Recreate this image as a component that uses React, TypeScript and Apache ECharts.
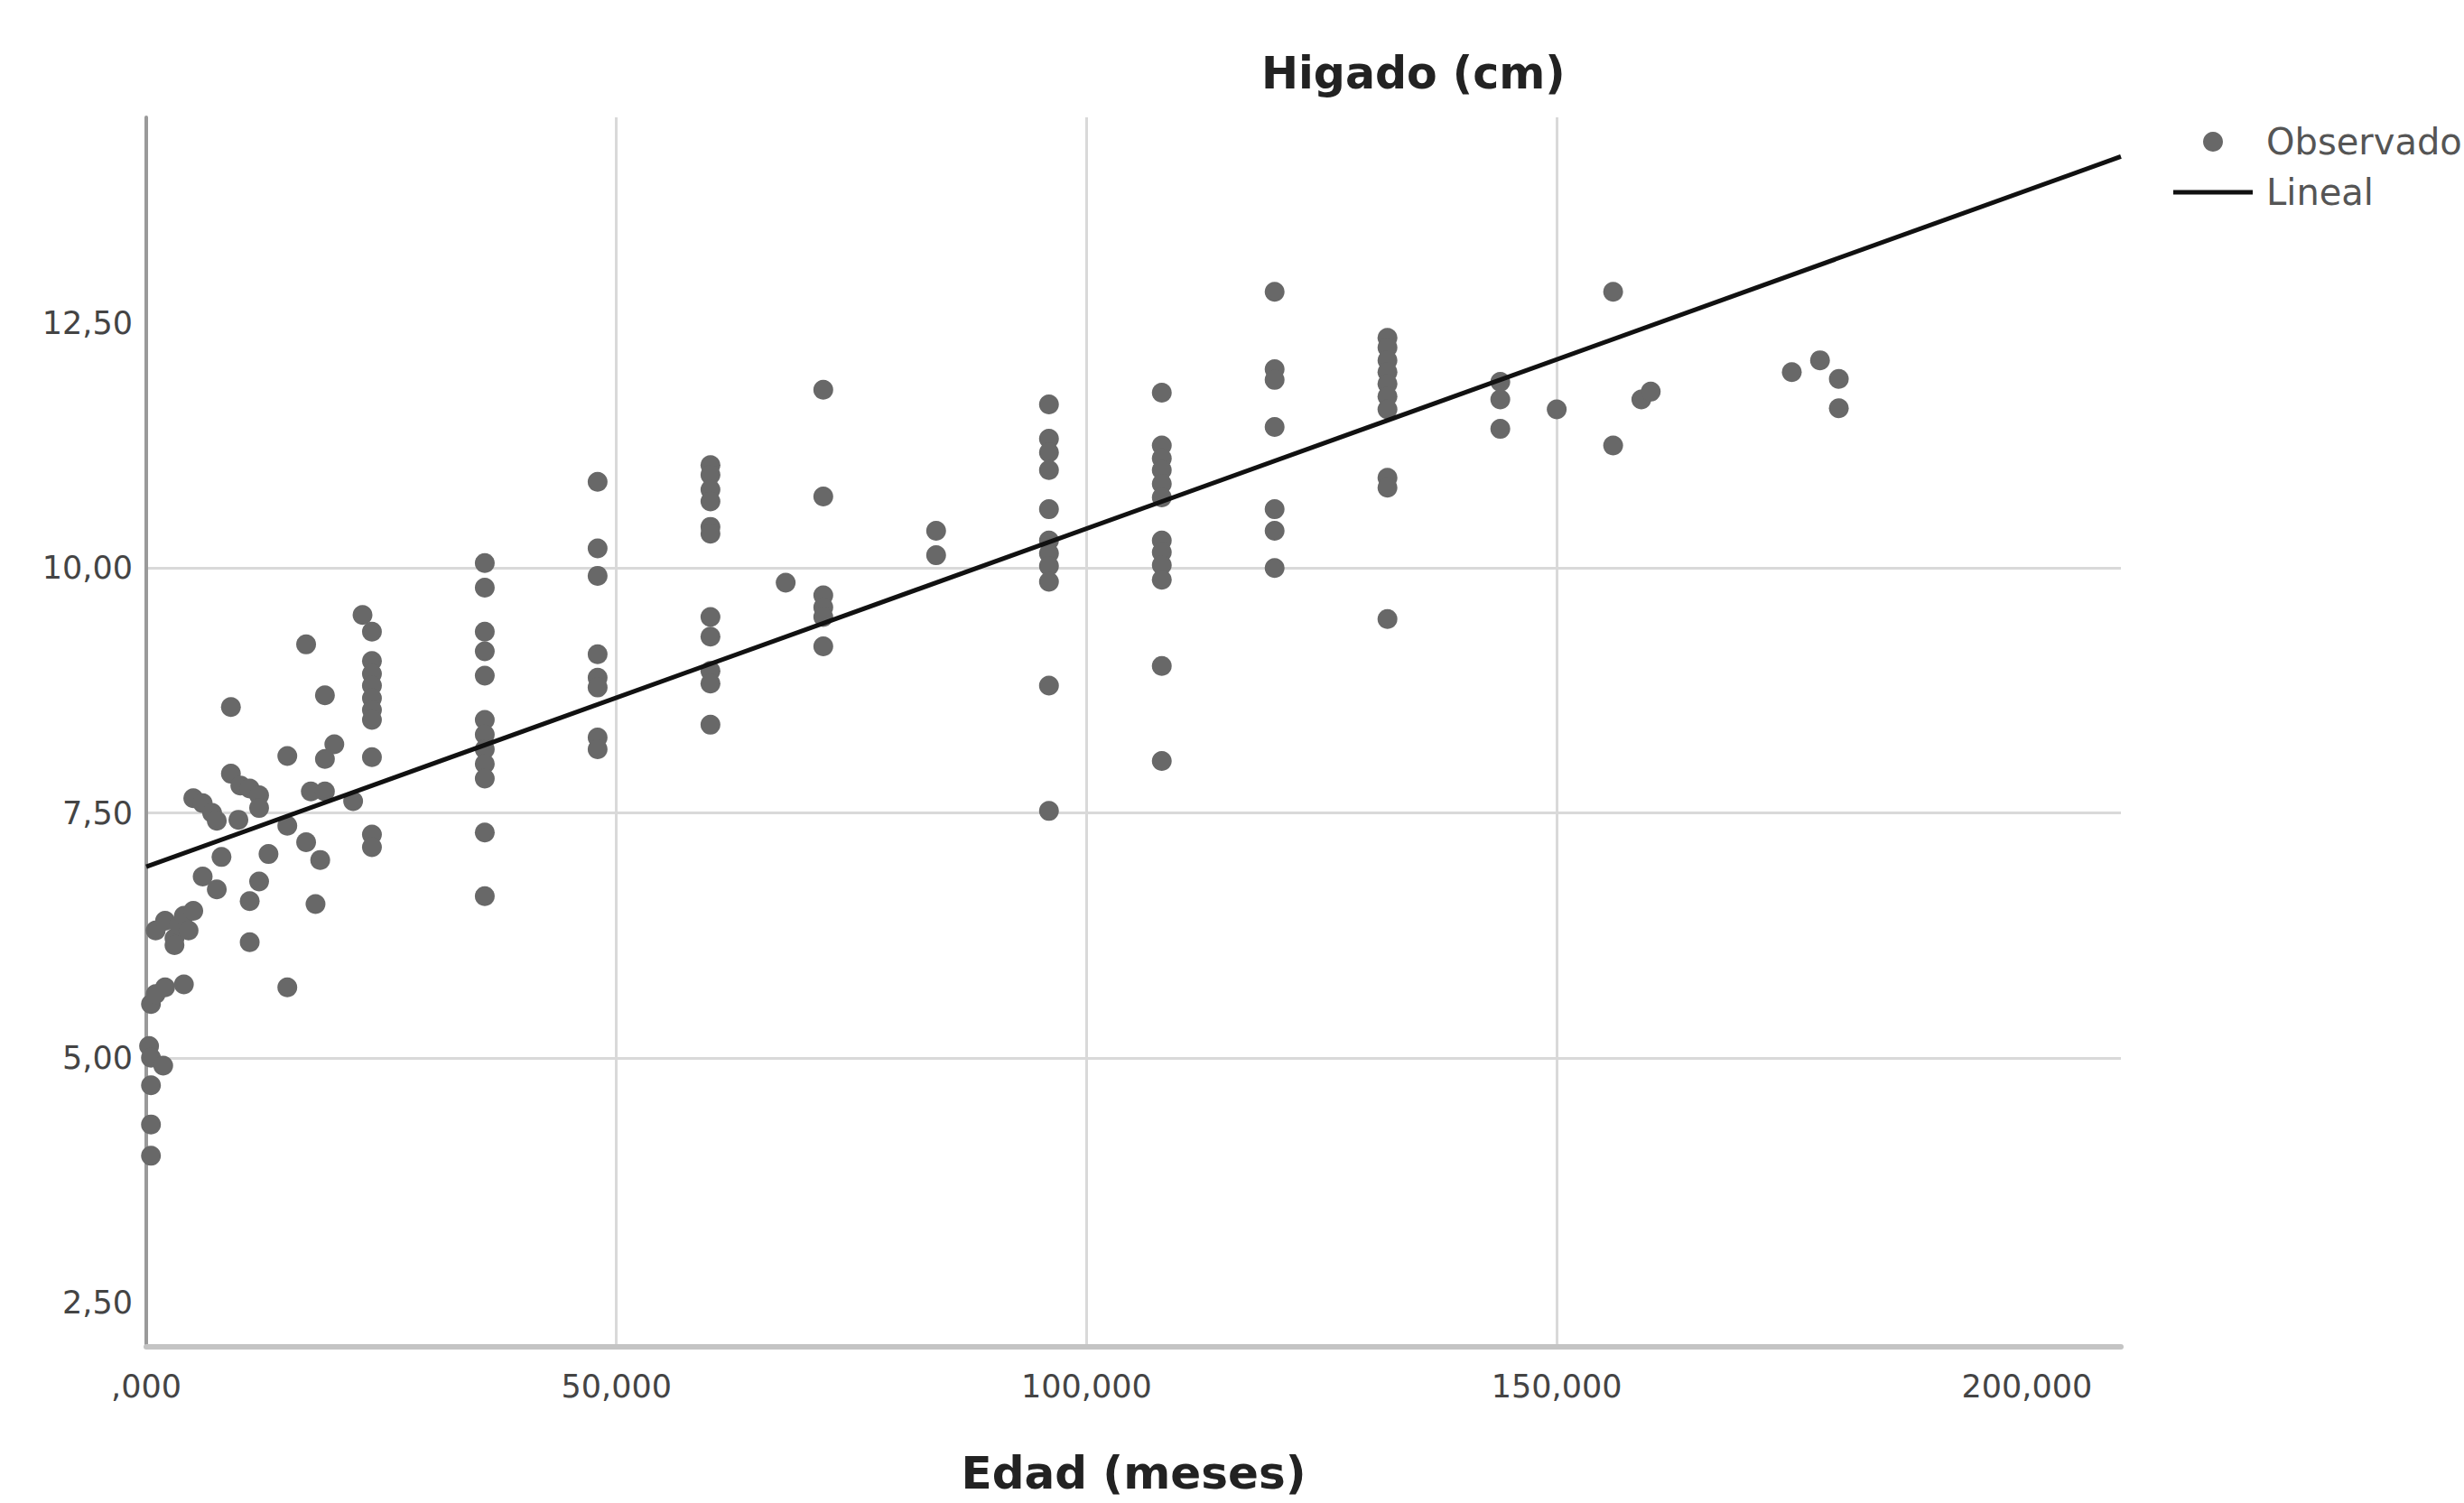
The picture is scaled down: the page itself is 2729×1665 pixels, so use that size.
import React, { useEffect, useRef } from "react";
import * as echarts from "echarts";

const chartTitle = "Higado (cm)";
const xAxisName = "Edad (meses)";
const seriesNames = ["Observado", "Lineal"];
const xTicks = [0, 50, 100, 150, 200];
const yTicks = [2.5, 5, 7.5, 10, 12.5];

// Infants / young children (0-24 months), read point by point
const earlyAges = [
  0.3, 0.5, 1.8, 0.5, 0.5, 0.5,
  0.5, 1, 2, 4,
  1, 2, 3, 3.5, 4, 4.5, 5, 3,
  6, 7.5,
  5, 6, 7, 7.5,
  8, 9, 9, 10, 9.8,
  11, 12, 12, 12, 11, 11,
  13, 15, 15, 17, 18.5, 15,
  17, 17.5, 19, 18,
  19, 20, 19, 22,
  23, 24, 24, 24, 24, 24, 24, 24, 24, 24, 24,
];
const earlyLiver = [
  5.12, 5.0, 4.92, 4.72, 4.32, 4.0,
  5.55, 5.65, 5.72, 5.75,
  6.3, 6.4, 6.22, 6.35, 6.45, 6.3, 6.5, 6.15,
  6.85, 6.72,
  7.65, 7.6, 7.5, 7.42,
  7.05, 8.58, 7.9, 7.78, 7.43,
  7.75, 7.68, 7.55, 6.8, 6.6, 6.18,
  7.08, 8.08, 7.37, 7.2, 7.02, 5.72,
  9.22, 7.72, 7.72, 6.57,
  8.7, 8.2, 8.05, 7.62,
  9.52, 9.35, 9.05, 8.92, 8.8, 8.67, 8.55, 8.45, 8.07, 7.28, 7.15,
];

// Older children grouped by age (months)
const groupAges = [36, 48, 60, 68, 72, 84, 96, 108, 120, 132, 144, 150, 156, 159, 160, 175, 178, 180];
const groupLiver = [
  [10.05, 9.8, 9.35, 9.15, 8.9, 8.45, 8.3, 8.15, 8.0, 7.85, 7.3, 6.65],
  [10.88, 10.2, 9.92, 9.12, 8.88, 8.78, 8.27, 8.15],
  [11.05, 10.95, 10.8, 10.68, 10.42, 10.35, 9.5, 9.3, 8.95, 8.82, 8.4],
  [9.85],
  [11.82, 10.73, 9.72, 9.6, 9.5, 9.2],
  [10.38, 10.13],
  [11.67, 11.32, 11.18, 11.0, 10.6, 10.28, 10.15, 10.02, 9.86, 8.8, 7.52],
  [11.79, 11.25, 11.12, 11.0, 10.86, 10.72, 10.28, 10.16, 10.03, 9.88, 9.0, 8.03],
  [12.82, 12.03, 11.92, 11.44, 10.6, 10.38, 10.0],
  [12.35, 12.25, 12.12, 12.0, 11.88, 11.75, 11.62, 10.92, 10.82, 9.48],
  [11.9, 11.72, 11.42],
  [11.62],
  [12.82, 11.25],
  [11.72],
  [11.8],
  [12.0],
  [12.12],
  [11.93, 11.63],
];

// Linear fit line endpoints
const fitAges = [0, 210];
const fitLiver = [6.95, 14.2];

const FONT = "DejaVu Sans";
const DOT = "#686868";
const LINE = "#111111";

export default function App() {
  const ref = useRef<HTMLDivElement>(null);

  useEffect(() => {
    if (!ref.current) return;
    const chart = echarts.init(ref.current, null, { renderer: "svg" });

    const observed: number[][] = earlyAges.map((a, i) => [a, earlyLiver[i]]);
    groupAges.forEach((a, gi) => {
      groupLiver[gi].forEach((v) => observed.push([a, v]));
    });
    const fit = fitAges.map((a, i) => [a, fitLiver[i]]);

    chart.setOption({
      animation: false,
      backgroundColor: "#ffffff",
      title: {
        text: chartTitle,
        left: 1397,
        top: 57,
        padding: 0,
        textStyle: { fontFamily: FONT, fontWeight: "bold", fontSize: 49, color: "#222222" },
      },
      legend: {
        orient: "vertical",
        left: 2407,
        top: 137,
        padding: 0,
        itemWidth: 88,
        itemHeight: 22,
        itemGap: 16,
        data: [
          { name: seriesNames[0], icon: "circle", itemStyle: { color: DOT } },
          { name: seriesNames[1], icon: "path://M0 0H88V5H0Z", itemStyle: { color: LINE } },
        ],
        textStyle: { fontFamily: FONT, fontSize: 40, color: "#555555", padding: [0, 0, 0, 10] },
      },
      grid: { left: 162, right: 380, top: 130, bottom: 173, containLabel: false },
      xAxis: {
        type: "value",
        min: 0,
        max: 210,
        interval: 50,
        name: xAxisName,
        nameLocation: "middle",
        nameGap: 115,
        nameTextStyle: { fontFamily: FONT, fontWeight: "bold", fontSize: 50, color: "#222222" },
        axisLine: { show: true, onZero: false, lineStyle: { color: "#c4c4c4", width: 6 } },
        axisTick: { show: false, customValues: xTicks },
        axisLabel: {
          customValues: xTicks,
          margin: 26,
          fontFamily: FONT,
          fontSize: 35,
          color: "#444444",
          formatter: (v: number) => (v === 0 ? ",000" : v.toFixed(3).replace(".", ",")),
        },
        splitLine: { show: true, showMaxLine: false, lineStyle: { color: "#d9d9d9", width: 3 } },
      },
      yAxis: {
        type: "value",
        min: 2.05,
        max: 14.6,
        axisLine: { show: true, lineStyle: { color: "#9a9a9a", width: 4 } },
        axisTick: { show: false, customValues: yTicks },
        axisLabel: {
          customValues: yTicks,
          margin: 15,
          fontFamily: FONT,
          fontSize: 35,
          color: "#444444",
          formatter: (v: number) => v.toFixed(2).replace(".", ","),
        },
        splitLine: { show: true, showMinLine: false, showMaxLine: false, lineStyle: { color: "#d9d9d9", width: 3 } },
      },
      series: [
        {
          name: seriesNames[0],
          type: "scatter",
          data: observed,
          symbol: "circle",
          symbolSize: 22,
          itemStyle: { color: DOT, opacity: 1 },
          z: 2,
        },
        {
          name: seriesNames[1],
          type: "line",
          data: fit,
          symbol: "none",
          showSymbol: false,
          itemStyle: { color: LINE },
          lineStyle: { color: LINE, width: 5 },
          z: 3,
        },
      ],
    });

    return () => chart.dispose();
  }, []);

  return (
    <div
      ref={ref}
      style={{ position: "absolute", left: 0, top: 0, width: 2729, height: 1665, background: "#ffffff" }}
    />
  );
}
